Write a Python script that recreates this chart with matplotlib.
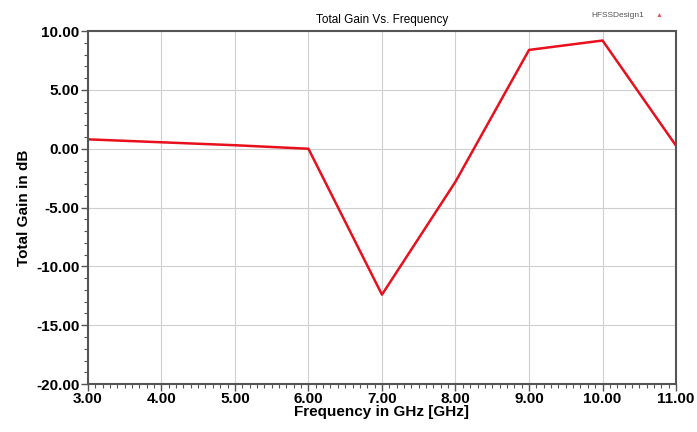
import numpy as np
import matplotlib.pyplot as plt
from matplotlib.ticker import MultipleLocator

# values
freq = [3.0, 4.0, 5.0, 6.0, 7.0, 8.0, 9.0, 10.0, 11.0]
gain = [0.8, 0.55, 0.3, 0.0, -12.4, -2.8, 8.4, 9.2, 0.25]
xticks = [3, 4, 5, 6, 7, 8, 9, 10, 11]
yticks = [10, 5, 0, -5, -10, -15, -20]

plt.rcParams['font.family'] = ['Liberation Sans', 'DejaVu Sans']

fig = plt.figure(figsize=(6.97, 4.32), dpi=100)
ax = fig.add_axes([0.126, 0.111, 0.844, 0.817])

ax.plot(freq, gain, color='#e8101c', lw=1.8)

ax.set_xlim(3, 11)
ax.set_ylim(-20, 10)
ax.set_xticks(xticks)
ax.set_yticks(yticks)
ax.set_xticklabels(['%.2f' % v for v in xticks], fontsize=11, fontweight='bold')
ax.set_yticklabels(['%.2f' % v for v in yticks], fontsize=11, fontweight='bold')
ax.xaxis.set_minor_locator(MultipleLocator(0.1))
ax.yaxis.set_minor_locator(MultipleLocator(1))
ax.tick_params(which='major', direction='out', length=5, width=1, color='#555555', pad=1)
ax.tick_params(which='minor', direction='out', length=3, width=0.8, color='#555555')
ax.grid(True, which='major', color='#cfcfcf', lw=0.8)

for s in ax.spines.values():
    s.set_color('#555555')
    s.set_linewidth(1.5)

ax.set_xlabel('Frequency in GHz [GHz]', fontsize=11, fontweight='bold', labelpad=-1)
ax.set_ylabel('Total Gain in dB', fontsize=11, fontweight='bold', labelpad=4)
ax.set_title('Total Gain Vs. Frequency', fontsize=8.5, pad=6)
fig.text(0.925, 0.965, 'HFSSDesign1', fontsize=6, color='#555555', ha='right', va='center')
fig.text(0.945, 0.965, '\u25b2', fontsize=5, color='#e06060', ha='center', va='center')

plt.savefig('out.png')
